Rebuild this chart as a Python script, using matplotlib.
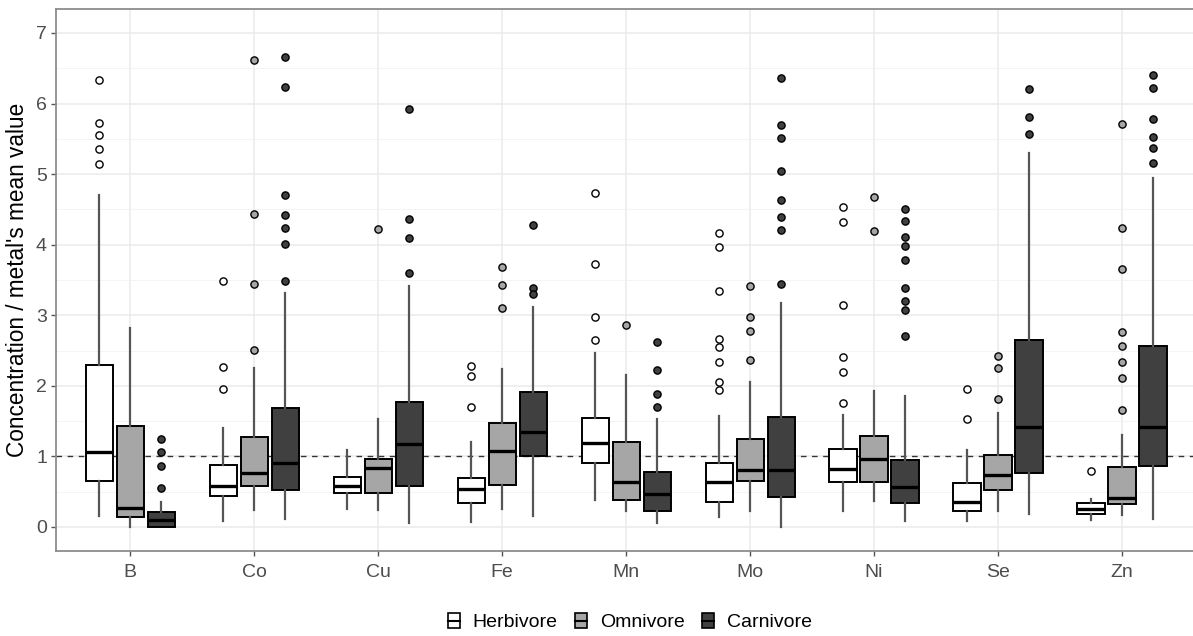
import matplotlib
matplotlib.use("Agg")
import matplotlib.pyplot as plt
from matplotlib.patches import Rectangle, Patch
from matplotlib.lines import Line2D
from matplotlib.legend_handler import HandlerBase
from matplotlib.ticker import MultipleLocator

plt.rcParams['font.family'] = ['Liberation Sans', 'DejaVu Sans']

# ---------------- data ----------------
metals = ['B', 'Co', 'Cu', 'Fe', 'Mn', 'Mo', 'Ni', 'Se', 'Zn']
groups = ['Herbivore', 'Omnivore', 'Carnivore']

herb_q1 = [0.647, 0.435, 0.487, 0.345, 0.90, 0.35, 0.642, 0.23, 0.184]
herb_med = [1.058, 0.58, 0.58, 0.534, 1.195, 0.633, 0.817, 0.35, 0.25]
herb_q3 = [2.29, 0.88, 0.71, 0.70, 1.55, 0.91, 1.10, 0.63, 0.345]
herb_lo = [0.16, 0.085, 0.25, 0.076, 0.38, 0.146, 0.22, 0.085, 0.10]
herb_hi = [4.71, 1.40, 1.09, 1.21, 2.46, 1.57, 1.58, 1.09, 0.40]
herb_out = [
    [6.33, 5.72, 5.56, 5.35, 5.14],
    [3.49, 2.26, 1.96],
    [],
    [2.28, 2.14, 1.70],
    [4.73, 3.73, 2.97, 2.65],
    [4.16, 3.97, 3.34, 2.66, 2.55, 2.34, 2.05, 1.94],
    [4.53, 4.32, 3.14, 2.41, 2.20, 1.76],
    [1.96, 1.53],
    [0.80],
]

omni_q1 = [0.146, 0.58, 0.487, 0.595, 0.38, 0.647, 0.633, 0.52, 0.32]
omni_med = [0.265, 0.76, 0.836, 1.08, 0.633, 0.81, 0.96, 0.74, 0.41]
omni_q3 = [1.43, 1.28, 0.96, 1.48, 1.21, 1.24, 1.29, 1.02, 0.845]
omni_lo = [0.005, 0.24, 0.24, 0.26, 0.22, 0.22, 0.37, 0.22, 0.17]
omni_hi = [2.82, 2.25, 1.53, 2.24, 2.15, 2.05, 1.93, 1.62, 1.30]
omni_out = [
    [],
    [6.62, 4.43, 3.45, 2.51],
    [4.22],
    [3.69, 3.43, 3.11],
    [2.86],
    [3.41, 2.97, 2.78, 2.36],
    [4.68, 4.19],
    [2.42, 2.25, 1.81],
    [5.71, 4.23, 3.65, 2.76, 2.56, 2.34, 2.11, 1.66],
]

carn_q1 = [0.005, 0.52, 0.58, 1.01, 0.227, 0.42, 0.335, 0.76, 0.87]
carn_med = [0.10, 0.90, 1.17, 1.35, 0.463, 0.81, 0.57, 1.42, 1.42]
carn_q3 = [0.21, 1.69, 1.77, 1.91, 0.78, 1.56, 0.95, 2.65, 2.57]
carn_lo = [0.0, 0.11, 0.06, 0.16, 0.05, 0.0, 0.09, 0.18, 0.11]
carn_hi = [0.36, 3.31, 3.42, 3.12, 1.53, 3.18, 1.86, 5.30, 4.94]
carn_out = [
    [1.25, 1.06, 0.87, 0.55],
    [6.66, 6.24, 4.70, 4.42, 4.24, 4.01, 3.49],
    [5.92, 4.36, 4.09, 3.60],
    [4.28, 3.38, 3.30],
    [2.62, 2.23, 1.89, 1.70],
    [6.36, 5.70, 5.51, 5.04, 4.63, 4.39, 4.21, 3.45],
    [4.51, 4.33, 4.11, 3.98, 3.79, 3.38, 3.20, 3.08, 2.70],
    [6.20, 5.81, 5.57],
    [6.40, 6.22, 5.78, 5.53, 5.37, 5.16],
]

yticks = [0, 1, 2, 3, 4, 5, 6, 7]
ylabel = "Concentration / metal's mean value"
reference_value = 1

# ---------------- style ----------------
colors = ['#FFFFFF', '#A6A6A6', '#404040']
offsets = [-0.25, 0.0, 0.25]
box_w = 0.22

W, H = 1193, 636
fig = plt.figure(figsize=(W / 100, H / 100), dpi=100)
left, right, top, bottom = 56, 1196.4, 8.7, 550.7
ax = fig.add_axes([left / W, 1 - bottom / H, (right - left) / W, (bottom - top) / H])

ax.set_xlim(0.4, len(metals) + 0.6)
ax.set_ylim(-0.336, 7.344)

# grid
ax.set_axisbelow(True)
ax.yaxis.set_minor_locator(MultipleLocator(0.5))
ax.grid(which='major', color='#EBEBEB', lw=1.1)
ax.grid(which='minor', axis='y', color='#F2F2F2', lw=0.6)
ax.tick_params(which='minor', length=0)

ax.axhline(reference_value, color='#333333', lw=1.0, ls=(0, (4, 4)), zorder=1.5)

all_stats = [
    (herb_q1, herb_med, herb_q3, herb_lo, herb_hi, herb_out),
    (omni_q1, omni_med, omni_q3, omni_lo, omni_hi, omni_out),
    (carn_q1, carn_med, carn_q3, carn_lo, carn_hi, carn_out),
]

for gi, (q1, med, q3, lo, hi, out) in enumerate(all_stats):
    stats = []
    for i in range(len(metals)):
        stats.append(dict(q1=q1[i], med=med[i], q3=q3[i], whislo=lo[i],
                          whishi=hi[i], fliers=out[i]))
    pos = [i + 1 + offsets[gi] for i in range(len(metals))]
    ax.bxp(stats, positions=pos, widths=box_w, patch_artist=True,
           showcaps=False, manage_ticks=False,
           boxprops=dict(facecolor=colors[gi], edgecolor='black', lw=1.4),
           medianprops=dict(color='black', lw=2.4, solid_capstyle='butt'),
           whiskerprops=dict(color='#555555', lw=1.6),
           flierprops=dict(marker='o', markerfacecolor=colors[gi],
                           markeredgecolor='black', markersize=5.2,
                           markeredgewidth=1.0, linestyle='none'),
           zorder=3)

ax.set_xticks(range(1, len(metals) + 1))
ax.set_xticklabels(metals)
ax.set_yticks(yticks)
ax.tick_params(axis='both', which='major', labelsize=14, labelcolor='#4D4D4D',
               color='#555555', length=3.5, width=1.0)
ax.tick_params(axis='x', pad=6)
ax.tick_params(axis='y', pad=3)
ax.set_ylabel(ylabel, fontsize=16.3, color='black', labelpad=5)

for s in ax.spines.values():
    s.set_color('#8C8C8C')
    s.set_linewidth(1.3)
ax.spines['right'].set_visible(False)


class BoxHandler(HandlerBase):
    def create_artists(self, legend, orig_handle, xdescent, ydescent,
                       width, height, fontsize, trans):
        r = Rectangle((-xdescent, -ydescent), width, height,
                      facecolor=orig_handle.get_facecolor(),
                      edgecolor='black', lw=1.2, transform=trans)
        ln = Line2D([-xdescent, -xdescent + width],
                    [-ydescent + height / 2] * 2, color='black', lw=1.5,
                    transform=trans)
        return [r, ln]


handles = [Patch(facecolor=c) for c in colors]
fig.legend(handles, groups, loc='center', bbox_to_anchor=(630 / W, 1 - 622 / H),
           ncol=3, frameon=False, fontsize=14, handlelength=0.62,
           handleheight=0.85, handletextpad=0.65, columnspacing=0.9,
           handler_map={Patch: BoxHandler()})

fig.savefig('out.png', dpi=100)
